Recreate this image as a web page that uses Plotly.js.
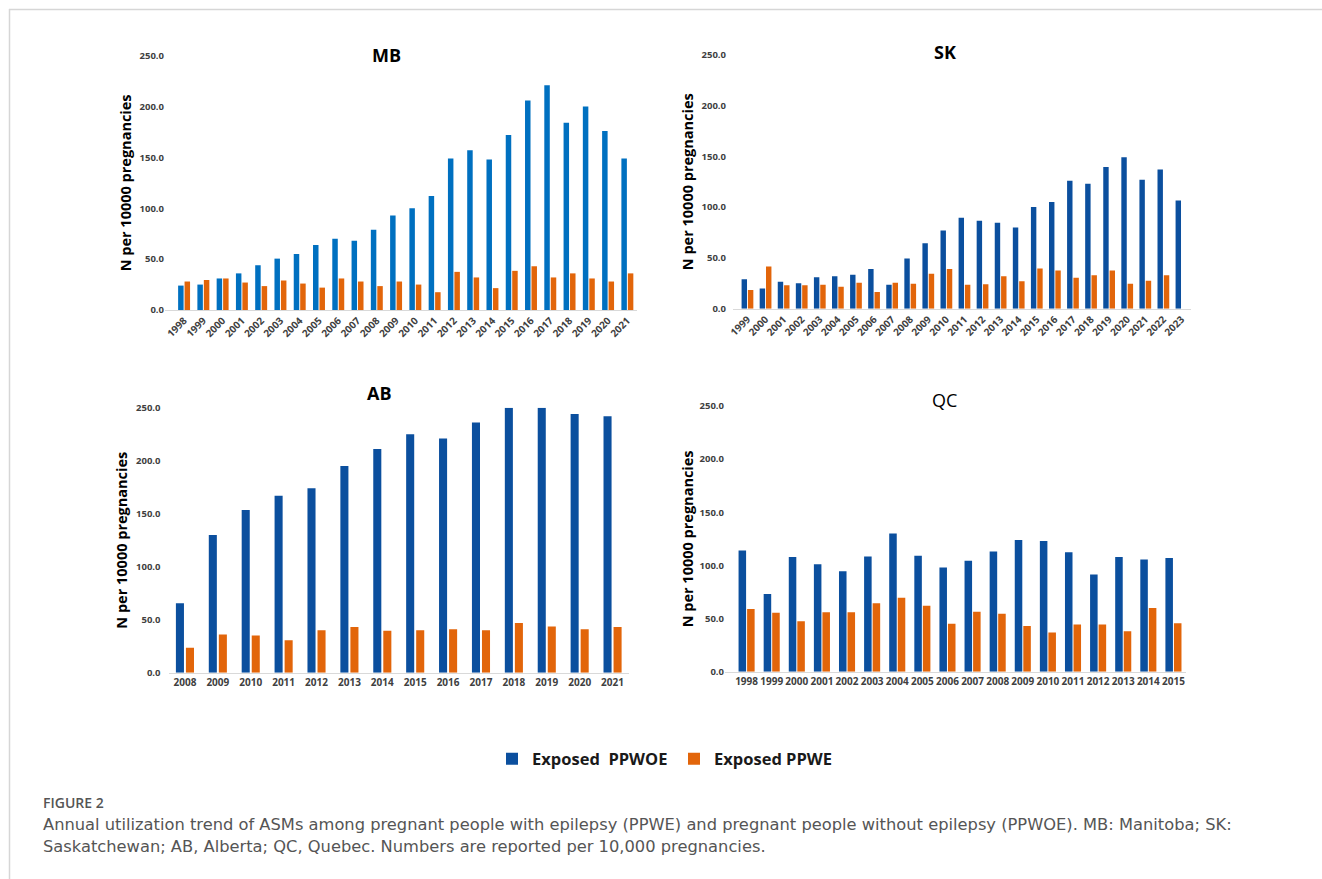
<!DOCTYPE html>
<html>
<head>
<meta charset="utf-8">
<script src="https://cdn.plot.ly/plotly-3.0.1.min.js"></script>
<style>
  html, body { margin: 0; padding: 0; background: #ffffff; }
  #chart { width: 1322px; height: 879px; }
</style>
</head>
<body>
<div id="chart"></div>
<script>
// ---------------- DATA ----------------
const mbYears = ["1998","1999","2000","2001","2002","2003","2004","2005","2006","2007","2008","2009","2010","2011","2012","2013","2014","2015","2016","2017","2018","2019","2020","2021"];
const mbPPWOE = [24, 25, 31, 36, 44, 50.5, 55, 64, 70, 68, 79, 93, 100, 112, 149, 157, 148, 172, 206, 221, 184, 200, 176, 149];
const mbPPWE  = [28, 29.5, 31, 27, 23.5, 29, 26, 22, 31, 28, 23.5, 28, 25, 17.5, 37.5, 32, 21.5, 38.5, 43, 32, 36, 31, 28, 36];

const skYears = ["1999","2000","2001","2002","2003","2004","2005","2006","2007","2008","2009","2010","2011","2012","2013","2014","2015","2016","2017","2018","2019","2020","2021","2022","2023"];
const skPPWOE = [29, 20, 26.5, 25, 31, 32, 33.5, 39, 23.5, 49.5, 64.5, 77, 89.5, 86.5, 84.5, 80, 100, 105, 126, 123, 139.5, 149, 127, 137, 106.5];
const skPPWE  = [18.5, 41.5, 23, 23, 23.5, 21.5, 25.5, 16.5, 25.5, 24.5, 34.5, 39, 23.5, 24, 32, 27, 39.5, 37.5, 30.5, 33, 37.5, 24.5, 27.5, 33, null];

const abYears = ["2008","2009","2010","2011","2012","2013","2014","2015","2016","2017","2018","2019","2020","2021"];
const abPPWOE = [65.5, 130, 153.5, 167, 174, 195, 211, 225, 221, 236, 250, 250, 244, 242];
const abPPWE  = [23.5, 36, 35, 30.5, 40, 43, 39.5, 40, 41, 40, 47, 43.5, 41, 43];

const qcYears = ["1998","1999","2000","2001","2002","2003","2004","2005","2006","2007","2008","2009","2010","2011","2012","2013","2014","2015"];
const qcPPWOE = [114, 73, 108, 101, 94.5, 108.5, 130, 109, 98, 104.5, 113, 124, 123, 112.5, 91.5, 108, 105.5, 107];
const qcPPWE  = [59, 55.5, 47.5, 56, 56, 64.5, 69.5, 62, 45, 56.5, 54.5, 43, 37, 44.5, 44.5, 38, 60, 45.5];

const yTicks = [0, 50, 100, 150, 200, 250];
const seriesNames = ["Exposed\u00a0 PPWOE", "Exposed PPWE"];
const panelTitles = ["MB", "SK", "AB", "QC"];
const yTitle = "N per 10000 pregnancies";
const captionHead = "FIGURE 2";
const captionLine1 = "Annual utilization trend of ASMs among pregnant people with epilepsy (PPWE) and pregnant people without epilepsy (PPWOE). MB: Manitoba; SK:";
const captionLine2 = "Saskatchewan; AB, Alberta; QC, Quebec. Numbers are reported per 10,000 pregnancies.";

// ---------------- STYLE ----------------
const W = 1322, H = 879;
const BLUE_MB = "#0070C0";
const BLUE = "#0B4F9E";
const ORANGE = "#E2650A";
const FONT = "Open Sans, Liberation Sans, sans-serif";
const CAPFONT = "DejaVu Sans, Open Sans, sans-serif";
const px = v => v / W;
const py = v => 1 - v / H;

function barPair(xs, a, b, xa, ya, bw, gap, blue, legend) {
  return [
    { type: "bar", x: xs, y: a, xaxis: xa, yaxis: ya, name: seriesNames[0],
      marker: { color: blue, line: { width: 0 } }, width: bw, offset: -bw - gap / 2,
      showlegend: legend, legendrank: 1, hoverinfo: "x+y+name" },
    { type: "bar", x: xs, y: b, xaxis: xa, yaxis: ya, name: seriesNames[1],
      marker: { color: ORANGE, line: { width: 0 } }, width: bw, offset: gap / 2,
      showlegend: legend, legendrank: 2, hoverinfo: "x+y+name" }
  ];
}

const data = [].concat(
  barPair(mbYears, mbPPWOE, mbPPWE, "x", "y", 0.285, 0.05, BLUE_MB, false),
  barPair(skYears, skPPWOE, skPPWE, "x2", "y2", 0.30, 0.05, BLUE, false),
  barPair(abYears, abPPWOE, abPPWE, "x3", "y3", 0.245, 0.06, BLUE, true),
  barPair(qcYears, qcPPWOE, qcPPWE, "x4", "y4", 0.30, 0.04, BLUE, false)
);

const tickFontRot = { family: FONT, size: 10, color: "#404040", weight: 700 };
const tickFontFlat = { family: FONT, size: 10, color: "#404040", weight: 700 };
const yTickFont = { family: FONT, size: 9.5, color: "#404040", weight: 700 };

function xAxis(domain, range, yanchor, angle) {
  return {
    domain: domain, anchor: yanchor, type: "category", range: range,
    tickangle: angle, showline: true, linecolor: "#d9d9d9", linewidth: 1,
    ticks: "", showgrid: false, zeroline: false,
    tickfont: angle ? tickFontRot : tickFontFlat,
    fixedrange: true
  };
}
function yAxis(domain, xanchor, standoffLabels, standoffTitle) {
  return {
    domain: domain, anchor: xanchor, range: [0, 250], tickvals: yTicks,
    tickformat: ".1f", showgrid: false, zeroline: false, showline: false,
    ticks: "", ticklabelstandoff: standoffLabels, tickfont: yTickFont,
    title: { text: yTitle, font: { family: FONT, size: 14.5, color: "#000000", weight: 700 }, standoff: standoffTitle },
    fixedrange: true
  };
}

function titleAnn(text, x, y, weight) {
  return { text: text, xref: "paper", yref: "paper", x: px(x), y: py(y),
    xanchor: "center", yanchor: "middle", showarrow: false,
    font: { family: FONT, size: 18, color: "#000000", weight: weight } };
}

const layout = {
  width: W, height: H,
  margin: { l: 0, r: 0, t: 0, b: 0, pad: 0 },
  paper_bgcolor: "#ffffff", plot_bgcolor: "#ffffff",
  barmode: "overlay",
  font: { family: FONT, color: "#404040" },
  xaxis:  xAxis([px(165), px(637)],  [-0.99, 23.5], "y",  -45),
  yaxis:  yAxis([py(310), py(55.7)],  "x",  0, 4),
  xaxis2: xAxis([px(733), px(1190.5)], [-0.80, 24.5], "y2", -45),
  yaxis2: yAxis([py(308.7), py(54.7)], "x2", 6, 4),
  xaxis3: xAxis([px(168.5), px(629)], [-0.5, 13.5], "y3", 0),
  yaxis3: yAxis([py(672.7), py(407.7)], "x3", 7, 4),
  xaxis4: xAxis([px(725), px(1186)], [-0.86, 17.5], "y4", 0),
  yaxis4: yAxis([py(671.7), py(406)], "x4", 0, 2),
  showlegend: true,
  legend: {
    orientation: "h", x: px(492), xanchor: "left", y: py(759), yanchor: "middle",
    font: { family: FONT, size: 16.5, color: "#1a1a1a", weight: 700 },
    entrywidth: 137, entrywidthmode: "pixels", bgcolor: "rgba(0,0,0,0)",
    traceorder: "normal"
  },
  annotations: [
    titleAnn(panelTitles[0], 386, 55, 700),
    titleAnn(panelTitles[1], 945, 52, 700),
    titleAnn(panelTitles[2], 379, 393, 700),
    titleAnn(panelTitles[3], 944, 400, 400),
    { text: captionHead, xref: "paper", yref: "paper", x: px(41), y: py(802),
      xanchor: "left", yanchor: "middle", showarrow: false,
      font: { family: FONT, size: 14, color: "#555555", weight: 600 } },
    { text: captionLine1, xref: "paper", yref: "paper", x: px(41), y: py(824),
      xanchor: "left", yanchor: "middle", showarrow: false,
      font: { family: CAPFONT, size: 16.3, color: "#555555", weight: 400 } },
    { text: captionLine2, xref: "paper", yref: "paper", x: px(41), y: py(846),
      xanchor: "left", yanchor: "middle", showarrow: false,
      font: { family: CAPFONT, size: 16.3, color: "#555555", weight: 400 } }
  ],
  shapes: [
    { type: "line", xref: "paper", yref: "paper", x0: px(9), x1: 1, y0: py(9.5), y1: py(9.5),
      line: { color: "#d6d6d6", width: 1.5 } },
    { type: "line", xref: "paper", yref: "paper", x0: px(9.5), x1: px(9.5), y0: py(9), y1: 0,
      line: { color: "#d6d6d6", width: 1.5 } }
  ]
};

Plotly.newPlot("chart", data, layout, { displayModeBar: false, staticPlot: true });
</script>
</body>
</html>
